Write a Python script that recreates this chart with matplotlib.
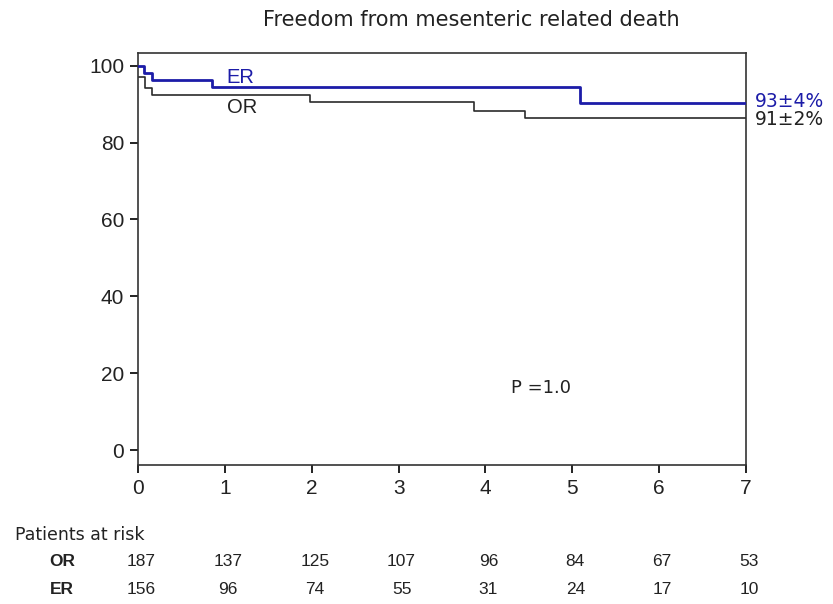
import matplotlib
matplotlib.use("Agg")
import matplotlib.pyplot as plt
from matplotlib import font_manager

# ---- data ----
er_times = [0, 0.07, 0.165, 0.85, 5.09, 7]
er_surv = [100, 98.0, 96.2, 94.4, 90.3, 90.3]
or_times = [0, 0.08, 0.157, 1.98, 3.87, 4.45, 7]
or_surv = [97.1, 94.1, 92.4, 90.5, 88.3, 86.3, 86.3]
x_ticks = [0, 1, 2, 3, 4, 5, 6, 7]
y_ticks = [0, 20, 40, 60, 80, 100]
risk_or = [187, 137, 125, 107, 96, 84, 67, 53]
risk_er = [156, 96, 74, 55, 31, 24, 17, 10]
er_end_label = "93±4%"
or_end_label = "91±2%"
title = "Freedom from mesenteric related death"
p_text = "P =1.0"

names = {f.name for f in font_manager.fontManager.ttflist}
narrow = "Liberation Sans Narrow" if "Liberation Sans Narrow" in names else "Liberation Sans"

BLUE = "#1c1ca8"
DARK = "#2b2b2b"

fig = plt.figure(figsize=(8.33, 6.04), dpi=100)
ax = fig.add_axes([0.1657, 0.2301, 0.7299, 0.6822])

ax.step(er_times, er_surv, where="post", color=BLUE, lw=2.0, zorder=3)
ax.step(or_times, or_surv, where="post", color=DARK, lw=1.2, zorder=2)

ax.set_xlim(0, 7)
ax.set_ylim(-3.9, 103.3)
ax.set_xticks(x_ticks)
ax.set_yticks(y_ticks)
ax.tick_params(axis="both", direction="out", length=6, width=1.4, color="#222222",
               labelsize=15, pad=4)
for lab in ax.get_xticklabels() + ax.get_yticklabels():
    lab.set_fontfamily("Liberation Sans")
    lab.set_color("#222222")
for s in ax.spines.values():
    s.set_color("#333333")
    s.set_linewidth(1.2)

ax.text(1.02, 97.0, "ER", color=BLUE, fontsize=14.5, family="Liberation Sans", va="center")
ax.text(1.02, 89.2, "OR", color="#222222", fontsize=14.5, family="Liberation Sans", va="center")
ax.text(7.1, 90.7, er_end_label, color=BLUE, fontsize=13.5, family="DejaVu Sans",
        va="center", ha="left", clip_on=False)
ax.text(7.1, 86.0, or_end_label, color="#222222", fontsize=13.5, family="DejaVu Sans",
        va="center", ha="left", clip_on=False)
ax.text(4.29, 16.2, p_text, color="#222222", fontsize=13, family="DejaVu Sans", va="center")

fig.text(471 / 833, 1 - 20 / 604, title, ha="center", va="center", fontsize=15,
         family="DejaVu Sans", color="#222222")

fig.text(15 / 833, 1 - 535 / 604, "Patients at risk", ha="left", va="center",
         fontsize=12.5, family="DejaVu Sans", color="#222222")
fig.text(62 / 833, 1 - 562 / 604, "OR", ha="center", va="center", fontsize=12.5,
         family=narrow, weight="bold", color="#222222")
fig.text(62 / 833, 1 - 589 / 604, "ER", ha="center", va="center", fontsize=12.5,
         family=narrow, weight="bold", color="#222222")
for xv, a, b in zip(x_ticks, risk_or, risk_er):
    xf = ax.transData.transform((xv, 0))[0] / fig.bbox.width
    fig.text(xf + 3 / 833, 1 - 562 / 604, str(a), ha="center", va="center", fontsize=12.5,
             family=narrow, color="#222222")
    fig.text(xf + 3 / 833, 1 - 589 / 604, str(b), ha="center", va="center", fontsize=12.5,
             family=narrow, color="#222222")

fig.savefig("out.png", dpi=100, facecolor="white")
